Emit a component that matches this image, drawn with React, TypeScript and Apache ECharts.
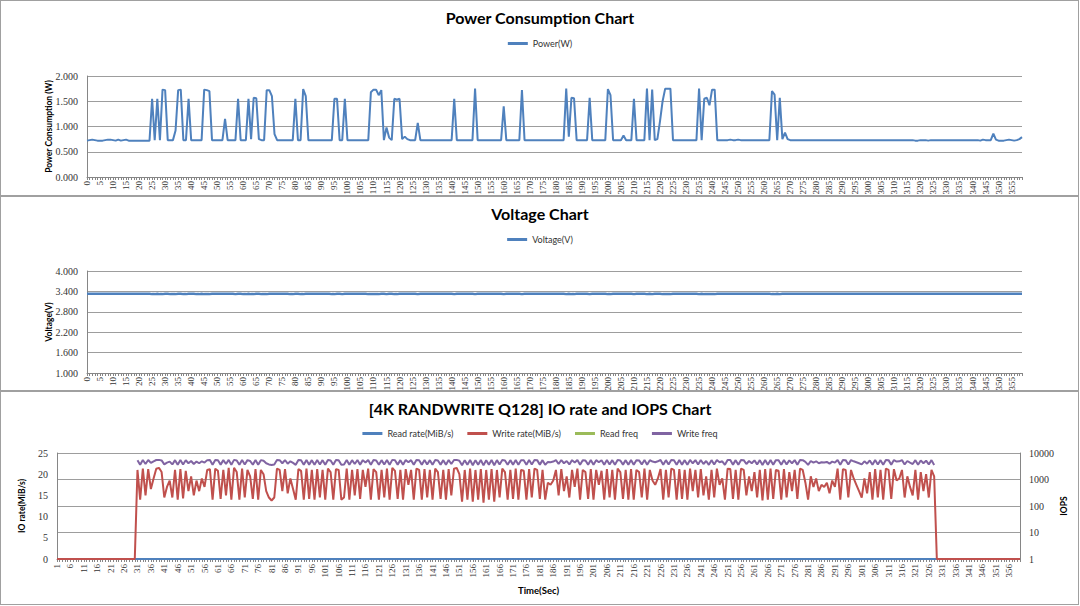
import React, { useEffect, useRef } from 'react';
import * as echarts from 'echarts';

// ---------- categories ----------
const powerSeconds: string[] = Array.from({ length: 360 }, (_, i) => String(i));
const ioSeconds: string[] = Array.from({ length: 360 }, (_, i) => String(i + 1));

// ---------- Power (W), seconds 0..359 ----------
const power: number[] = [
  0.72,0.73,0.74,0.73,0.72,0.72,0.72,0.73,0.74,0.74,0.73,0.72,0.74,0.72,0.73,0.74,0.72,0.72,0.72,0.72,
  0.72,0.72,0.72,0.72,0.72,1.55,0.73,1.55,0.73,1.73,1.72,0.73,0.73,0.73,0.92,1.72,1.73,0.73,0.73,1.55,
  0.73,0.73,0.73,0.73,0.73,1.73,1.72,1.70,0.73,0.73,0.73,0.73,0.73,1.15,0.73,0.73,0.73,0.73,1.55,0.73,
  0.73,0.73,1.55,0.75,1.57,1.56,0.75,0.73,0.73,1.72,1.72,1.60,0.85,0.73,0.73,0.73,0.73,0.73,0.73,0.73,
  1.55,0.73,0.73,1.74,1.60,0.73,0.73,0.73,0.73,0.73,0.73,0.73,0.73,0.73,0.73,1.55,1.55,0.73,0.73,1.55,
  0.73,0.73,0.73,0.73,0.73,0.73,0.73,0.73,0.73,1.68,1.73,1.73,1.62,1.72,0.73,0.98,0.78,0.73,1.55,1.53,
  1.55,0.75,0.80,0.75,0.73,0.73,0.73,1.07,0.73,0.73,0.73,0.73,0.73,0.73,0.73,0.73,0.73,0.73,0.73,0.73,
  0.73,1.55,0.73,0.73,0.73,0.73,0.73,0.73,0.73,1.75,0.73,0.73,0.73,0.73,0.73,0.73,0.73,0.73,0.73,0.73,
  1.40,0.73,0.73,0.73,0.73,0.73,0.73,1.72,0.73,0.73,0.73,0.73,0.73,0.73,0.73,0.73,0.73,0.73,0.73,0.73,
  0.73,0.73,0.73,0.73,1.75,0.80,1.57,1.56,0.73,0.73,0.73,0.73,0.73,1.57,0.73,0.73,0.73,0.73,0.73,0.73,
  1.74,1.62,0.73,0.73,0.73,0.73,0.82,0.73,0.73,0.73,1.55,0.73,0.73,0.73,0.73,1.75,0.73,1.73,0.73,0.75,
  1.10,1.50,1.75,1.75,1.75,0.73,0.73,0.73,0.73,0.73,0.73,0.73,0.73,0.73,0.73,1.75,0.73,1.55,1.57,1.42,
  1.73,1.73,0.73,0.73,0.73,0.73,0.73,0.74,0.73,0.73,0.74,0.73,0.73,0.73,0.73,0.73,0.73,0.73,0.73,0.73,
  0.73,0.73,0.73,1.70,1.63,0.73,1.57,0.75,0.88,0.75,0.73,0.73,0.73,0.73,0.73,0.73,0.73,0.73,0.73,0.73,
  0.73,0.73,0.73,0.73,0.73,0.73,0.73,0.73,0.73,0.73,0.73,0.73,0.73,0.73,0.73,0.73,0.73,0.73,0.73,0.73,
  0.73,0.73,0.73,0.73,0.73,0.73,0.73,0.73,0.73,0.73,0.73,0.73,0.73,0.73,0.73,0.73,0.73,0.73,0.72,0.72,
  0.73,0.73,0.73,0.72,0.73,0.73,0.73,0.73,0.73,0.73,0.73,0.73,0.73,0.73,0.73,0.73,0.73,0.73,0.73,0.73,
  0.73,0.73,0.73,0.72,0.74,0.73,0.73,0.73,0.86,0.74,0.72,0.72,0.72,0.73,0.74,0.73,0.72,0.73,0.75,0.79,
];

// ---------- Voltage (V), seconds 0..359 ----------
const voltage: number[] = [
  3.33,3.33,3.33,3.33,3.33,3.33,3.33,3.33,3.33,3.33,3.33,3.33,3.33,3.33,3.33,3.33,3.33,3.33,3.33,3.33,
  3.33,3.33,3.33,3.33,3.33,3.32,3.32,3.33,3.32,3.32,3.33,3.33,3.32,3.32,3.32,3.33,3.33,3.32,3.32,3.33,
  3.33,3.33,3.32,3.32,3.33,3.32,3.32,3.32,3.33,3.33,3.33,3.33,3.33,3.33,3.33,3.33,3.33,3.32,3.33,3.33,
  3.32,3.32,3.33,3.32,3.32,3.33,3.33,3.32,3.32,3.32,3.33,3.33,3.33,3.33,3.33,3.33,3.33,3.33,3.32,3.32,
  3.33,3.33,3.32,3.32,3.33,3.33,3.33,3.33,3.33,3.33,3.33,3.33,3.33,3.33,3.32,3.32,3.33,3.33,3.32,3.33,
  3.33,3.33,3.33,3.33,3.33,3.33,3.33,3.33,3.32,3.32,3.32,3.32,3.32,3.33,3.33,3.32,3.33,3.33,3.32,3.32,
  3.33,3.33,3.33,3.33,3.33,3.33,3.33,3.32,3.33,3.33,3.33,3.33,3.33,3.33,3.33,3.33,3.33,3.33,3.33,3.33,
  3.33,3.32,3.33,3.33,3.33,3.33,3.33,3.33,3.33,3.32,3.33,3.33,3.33,3.33,3.33,3.33,3.33,3.33,3.33,3.33,
  3.32,3.33,3.33,3.33,3.33,3.33,3.33,3.32,3.33,3.33,3.33,3.33,3.33,3.33,3.33,3.33,3.33,3.33,3.33,3.33,
  3.33,3.33,3.33,3.33,3.32,3.33,3.32,3.32,3.33,3.33,3.33,3.33,3.33,3.32,3.33,3.33,3.33,3.33,3.33,3.33,
  3.32,3.32,3.33,3.33,3.33,3.33,3.33,3.33,3.33,3.33,3.32,3.33,3.33,3.33,3.33,3.32,3.33,3.32,3.33,3.33,
  3.33,3.32,3.32,3.32,3.32,3.33,3.33,3.33,3.33,3.33,3.33,3.33,3.33,3.33,3.33,3.32,3.33,3.32,3.32,3.32,
  3.32,3.32,3.33,3.33,3.33,3.33,3.33,3.33,3.33,3.33,3.33,3.33,3.33,3.33,3.33,3.33,3.33,3.33,3.33,3.33,
  3.33,3.33,3.33,3.32,3.32,3.33,3.32,3.33,3.33,3.33,3.33,3.33,3.33,3.33,3.33,3.33,3.33,3.33,3.33,3.33,
  3.33,3.33,3.33,3.33,3.33,3.33,3.33,3.33,3.33,3.33,3.33,3.33,3.33,3.33,3.33,3.33,3.33,3.33,3.33,3.33,
  3.33,3.33,3.33,3.33,3.33,3.33,3.33,3.33,3.33,3.33,3.33,3.33,3.33,3.33,3.33,3.33,3.33,3.33,3.33,3.33,
  3.33,3.33,3.33,3.33,3.33,3.33,3.33,3.33,3.33,3.33,3.33,3.33,3.33,3.33,3.33,3.33,3.33,3.33,3.33,3.33,
  3.33,3.33,3.33,3.33,3.33,3.33,3.33,3.33,3.33,3.33,3.33,3.33,3.33,3.33,3.33,3.33,3.33,3.33,3.33,3.33,
];

// ---------- IO chart, seconds 1..360 ----------
const readRate: number[] = [
  0,0,0,0,0,0,0,0,0,0,0,0,0,0,0,0,0,0,0,0,
  0,0,0,0,0,0,0,0,0,0,0,0,0,0,0,0,0,0,0,0,
  0,0,0,0,0,0,0,0,0,0,0,0,0,0,0,0,0,0,0,0,
  0,0,0,0,0,0,0,0,0,0,0,0,0,0,0,0,0,0,0,0,
  0,0,0,0,0,0,0,0,0,0,0,0,0,0,0,0,0,0,0,0,
  0,0,0,0,0,0,0,0,0,0,0,0,0,0,0,0,0,0,0,0,
  0,0,0,0,0,0,0,0,0,0,0,0,0,0,0,0,0,0,0,0,
  0,0,0,0,0,0,0,0,0,0,0,0,0,0,0,0,0,0,0,0,
  0,0,0,0,0,0,0,0,0,0,0,0,0,0,0,0,0,0,0,0,
  0,0,0,0,0,0,0,0,0,0,0,0,0,0,0,0,0,0,0,0,
  0,0,0,0,0,0,0,0,0,0,0,0,0,0,0,0,0,0,0,0,
  0,0,0,0,0,0,0,0,0,0,0,0,0,0,0,0,0,0,0,0,
  0,0,0,0,0,0,0,0,0,0,0,0,0,0,0,0,0,0,0,0,
  0,0,0,0,0,0,0,0,0,0,0,0,0,0,0,0,0,0,0,0,
  0,0,0,0,0,0,0,0,0,0,0,0,0,0,0,0,0,0,0,0,
  0,0,0,0,0,0,0,0,0,0,0,0,0,0,0,0,0,0,0,0,
  0,0,0,0,0,0,0,0,0,0,0,0,0,0,0,0,0,0,0,0,
  0,0,0,0,0,0,0,0,0,0,0,0,0,0,0,0,0,0,0,0,
];

const writeRate: number[] = [
  0,0,0,0,0,0,0,0,0,0,0,0,0,0,0,0,0,0,0,0,
  0,0,0,0,0,0,0,0,0,0,21.0,14.0,21.3,15.0,21.2,16.5,19.0,21.3,21.5,20.5,
  14.5,17.0,18.5,14.5,21.0,14.0,21.2,14.3,20.8,16.0,19.5,15.0,18.5,16.0,19.0,17.0,21.0,21.2,14.0,21.3,
  20.8,14.2,21.0,15.0,21.5,14.0,21.5,20.5,14.0,21.3,14.5,21.0,19.5,14.2,21.2,14.0,21.0,20.0,16.0,14.5,
  13.8,14.5,21.3,21.0,16.0,21.2,15.5,19.0,16.5,14.0,21.2,20.8,14.0,21.3,14.2,21.0,14.0,21.2,14.5,21.0,
  14.0,21.3,20.5,14.0,21.2,21.0,14.0,14.5,21.3,14.0,21.0,15.0,21.2,14.2,21.0,17.0,21.3,14.0,21.2,20.5,
  14.0,21.0,14.5,21.3,14.0,21.5,20.8,14.2,21.0,14.0,21.2,17.5,21.0,14.0,21.3,21.0,14.0,21.2,14.5,21.0,
  14.0,21.3,20.5,14.2,21.0,14.0,21.2,15.0,21.3,21.5,20.0,13.5,21.0,14.0,21.3,13.5,21.0,14.0,21.2,13.3,
  21.0,14.0,21.2,13.5,21.0,14.5,21.3,20.5,14.0,21.0,14.2,21.3,14.0,21.0,20.8,14.0,21.2,14.5,21.3,21.0,
  14.2,21.0,14.0,18.0,17.5,18.5,21.0,15.0,21.2,16.0,19.5,14.5,21.0,17.0,21.3,14.0,21.0,20.5,14.2,21.2,
  14.0,21.0,17.5,20.8,14.0,21.2,14.5,21.0,14.0,21.3,20.5,14.2,21.0,14.0,21.2,14.0,21.0,20.5,14.5,21.3,
  14.0,21.0,18.5,17.5,19.0,21.2,14.0,21.0,14.5,21.3,21.0,14.0,21.2,14.2,21.0,14.0,21.3,16.0,21.0,14.5,
  21.2,15.0,19.5,14.0,21.0,14.5,21.3,17.5,19.0,14.0,21.3,21.2,14.2,21.0,14.0,21.3,21.0,15.0,19.5,16.0,
  20.5,14.5,21.0,13.8,21.2,14.0,21.3,14.2,21.0,20.8,14.0,21.2,14.5,20.5,16.0,21.0,14.2,21.3,21.0,18.0,
  14.0,19.5,17.0,19.0,16.0,17.5,17.0,18.0,15.5,18.5,17.0,21.3,14.0,21.2,21.0,14.5,21.0,19.0,17.5,16.0,
  14.5,19.0,15.5,20.5,14.0,21.2,14.5,21.0,14.0,21.3,21.0,14.2,21.2,18.5,19.0,21.0,14.5,19.5,17.0,15.0,
  21.0,14.0,20.5,16.0,20.0,14.5,21.0,19.5,0,0,0,0,0,0,0,0,0,0,0,0,
  0,0,0,0,0,0,0,0,0,0,0,0,0,0,0,0,0,0,0,0,
];

// Read freq is zero throughout and cannot appear on the logarithmic IOPS axis.
const readFreq: (number | null)[] = [];

const writeFreq: (number | null)[] = [
  null,null,null,null,null,null,null,null,null,null,null,null,null,null,null,null,null,null,null,null,
  null,null,null,null,null,null,null,null,null,null,5380,3580,5450,3840,5430,4220,4860,5450,5500,5250,
  3710,4350,4740,3710,5380,3580,5430,3660,5320,4100,4990,3840,4740,4100,4860,4350,5380,5430,3580,5450,
  5320,3640,5380,3840,5500,3580,5500,5250,3580,5450,3710,5380,4990,3640,5430,3580,5380,5120,4100,3710,
  3530,3710,5450,5380,4100,5430,3970,4860,4220,3580,5430,5320,3580,5450,3640,5380,3580,5430,3710,5380,
  3580,5450,5250,3580,5430,5380,3580,3710,5450,3580,5380,3840,5430,3640,5380,4350,5450,3580,5430,5250,
  3580,5380,3710,5450,3580,5500,5320,3640,5380,3580,5430,4480,5380,3580,5450,5380,3580,5430,3710,5380,
  3580,5450,5250,3640,5380,3580,5430,3840,5450,5500,5120,3460,5380,3580,5450,3460,5380,3580,5430,3400,
  5380,3580,5430,3460,5380,3710,5450,5250,3580,5380,3640,5450,3580,5380,5320,3580,5430,3710,5450,5380,
  3640,5380,3580,4610,4480,4740,5380,3840,5430,4100,4990,3710,5380,4350,5450,3580,5380,5250,3640,5430,
  3580,5380,4480,5320,3580,5430,3710,5380,3580,5450,5250,3640,5380,3580,5430,3580,5380,5250,3710,5450,
  3580,5380,4740,4480,4860,5430,3580,5380,3710,5450,5380,3580,5430,3640,5380,3580,5450,4100,5380,3710,
  5430,3840,4990,3580,5380,3710,5450,4480,4860,3580,5450,5430,3640,5380,3580,5450,5380,3840,4990,4100,
  5250,3710,5380,3530,5430,3580,5450,3640,5380,5320,3580,5430,3710,5250,4100,5380,3640,5450,5380,4610,
  3580,4990,4350,4860,4100,4480,4350,4610,3970,4740,4350,5450,3580,5430,5380,3710,5380,4860,4480,4100,
  3710,4860,3970,5250,3580,5430,3710,5380,3580,5450,5380,3640,5430,4740,4860,5380,3710,4990,4350,3840,
  5380,3580,5250,4100,5120,3710,5380,3500,null,null,null,null,null,null,null,null,null,null,null,null,
  null,null,null,null,null,null,null,null,null,null,null,null,null,null,null,null,null,null,null,null,
];

// ---------- styling ----------
const BLUE = '#4F81BD';
const RED = '#C0504D';
const GREEN = '#9BBB59';
const PURPLE = '#8064A2';
const AXIS = '#868686';
const GRID = '#9d9d9d';
const LABEL = '#333333';
const SANS = 'Lato';
const SERIF = 'Liberation Serif';

const titleStyle = { fontFamily: SANS, fontSize: 16, fontWeight: 'bold' as const, color: '#000' };
const legendText = { fontFamily: SANS, fontSize: 9, color: '#333' };
const nameStyle = { fontFamily: SANS, fontSize: 8.5, fontWeight: 'bold' as const, color: '#000' };
const legendBase = { left: 'center', icon: 'rect', itemWidth: 20, itemHeight: 3, textStyle: legendText };

function catAxis(data: string[], extra: any = {}) {
  return {
    type: 'category',
    data,
    boundaryGap: false,
    axisLine: { show: true, lineStyle: { color: AXIS, width: 1 } },
    axisTick: { show: true, interval: 0, length: 3, lineStyle: { color: AXIS } },
    axisLabel: { interval: 4, rotate: 90, fontSize: 9, fontFamily: SERIF, color: LABEL, margin: 4 },
    splitLine: { show: false },
    ...extra,
  };
}

const powerOption: any = {
  animation: false,
  title: { text: 'Power Consumption Chart', left: 'center', top: 4, textStyle: titleStyle },
  legend: { ...legendBase, top: 34, data: ['Power(W)'] },
  grid: { left: 87, top: 76, width: 935, height: 101, containLabel: false, outerBoundsMode: 'none' },
  xAxis: catAxis(powerSeconds),
  yAxis: {
    type: 'value', min: 0, max: 2, interval: 0.5,
    name: 'Power Consumption (W)', nameLocation: 'middle', nameGap: 34, nameRotate: 90,
    nameTextStyle: nameStyle, nameMoveOverlap: false,
    axisLine: { show: true, lineStyle: { color: AXIS } },
    axisTick: { show: false },
    axisLabel: { formatter: (v: number) => v.toFixed(3), fontSize: 10, fontFamily: SERIF, color: LABEL, margin: 9 },
    splitLine: { show: true, lineStyle: { color: GRID, width: 1 } },
  },
  series: [{
    name: 'Power(W)', type: 'line', data: power, symbol: 'none',
    lineStyle: { color: BLUE, width: 2 }, itemStyle: { color: BLUE },
  }],
};

// Voltage axis spans 1.000 .. 4.000 in steps of 0.600; values are drawn relative to the 1.000 floor.
const VOLT_FLOOR = 1;
const voltageOption: any = {
  animation: false,
  title: { text: 'Voltage Chart', left: 'center', top: 4, textStyle: titleStyle },
  legend: { ...legendBase, top: 34, data: ['Voltage(V)'] },
  grid: { left: 87, top: 75, width: 935, height: 102, containLabel: false, outerBoundsMode: 'none' },
  xAxis: catAxis(powerSeconds),
  yAxis: {
    type: 'value', min: 0, max: 3, interval: 0.6,
    name: 'Voltage(V)', nameLocation: 'middle', nameGap: 34, nameRotate: 90,
    nameTextStyle: nameStyle, nameMoveOverlap: false,
    axisLine: { show: true, lineStyle: { color: AXIS } },
    axisTick: { show: false },
    axisLabel: { formatter: (v: number) => (v + VOLT_FLOOR).toFixed(3), fontSize: 10, fontFamily: SERIF, color: LABEL, margin: 9 },
    splitLine: { show: true, lineStyle: { color: GRID, width: 1 } },
  },
  series: [{
    name: 'Voltage(V)', type: 'line', data: voltage.map((v) => +(v - VOLT_FLOOR).toFixed(4)), symbol: 'none',
    lineStyle: { color: BLUE, width: 2.5 }, itemStyle: { color: BLUE },
  }],
};

const ioOption: any = {
  animation: false,
  title: { text: '[4K RANDWRITE Q128] IO rate and IOPS Chart', left: 'center', top: 4, textStyle: titleStyle },
  legend: {
    ...legendBase, top: 33, itemGap: 14,
    data: ['Read rate(MiB/s)', 'Write rate(MiB/s)', 'Read freq', 'Write freq'],
  },
  grid: { left: 57, top: 62, width: 963, height: 106, containLabel: false, outerBoundsMode: 'none' },
  xAxis: catAxis(ioSeconds, {
    name: 'Time(Sec)', nameLocation: 'middle', nameGap: 26,
    nameTextStyle: { fontFamily: SANS, fontSize: 9.5, fontWeight: 'bold', color: '#000' }, nameMoveOverlap: false,
    axisLabel: { interval: 4, rotate: 90, fontSize: 9, fontFamily: SERIF, color: LABEL, margin: 5 },
  }),
  yAxis: [
    {
      type: 'value', min: 0, max: 25, interval: 5, position: 'left',
      name: 'IO rate(MiB/s)', nameLocation: 'middle', nameGap: 31, nameRotate: 90,
      nameTextStyle: nameStyle, nameMoveOverlap: false,
      axisLine: { show: true, lineStyle: { color: AXIS } },
      axisTick: { show: false },
      axisLabel: { fontSize: 10, fontFamily: SERIF, color: LABEL, margin: 9 },
      splitLine: { show: false },
    },
    {
      type: 'log', logBase: 10, min: 1, max: 10000, position: 'right',
      name: 'IOPS', nameLocation: 'middle', nameGap: 39, nameRotate: 90,
      nameTextStyle: nameStyle, nameMoveOverlap: false,
      axisLine: { show: true, lineStyle: { color: AXIS } },
      axisTick: { show: false },
      axisLabel: { formatter: (v: number) => String(Math.round(v)), fontSize: 10, fontFamily: SERIF, color: LABEL, margin: 9 },
      splitLine: { show: true, lineStyle: { color: GRID, width: 1 } },
    },
  ],
  series: [
    { name: 'Read rate(MiB/s)', type: 'line', yAxisIndex: 0, data: readRate, symbol: 'none', lineStyle: { color: BLUE, width: 2 }, itemStyle: { color: BLUE } },
    { name: 'Write rate(MiB/s)', type: 'line', yAxisIndex: 0, data: writeRate, symbol: 'none', lineStyle: { color: RED, width: 2 }, itemStyle: { color: RED } },
    { name: 'Read freq', type: 'line', yAxisIndex: 1, data: readFreq, symbol: 'none', lineStyle: { color: GREEN, width: 2 }, itemStyle: { color: GREEN } },
    { name: 'Write freq', type: 'line', yAxisIndex: 1, data: writeFreq, symbol: 'none', lineStyle: { color: PURPLE, width: 2 }, itemStyle: { color: PURPLE } },
  ],
};

const PANEL_BORDER = '#a0a0a0';

function Panel({ top, height, chartRef }: { top: number; height: number; chartRef: React.RefObject<HTMLDivElement | null> }) {
  return (
    <div
      style={{
        position: 'absolute', left: 0, top, width: 1079, height,
        border: `1px solid ${PANEL_BORDER}`, boxSizing: 'border-box', overflow: 'hidden', background: '#fff',
      }}
    >
      <div ref={chartRef} style={{ position: 'absolute', left: -1, top: -1, width: 1080, height }} />
    </div>
  );
}

export default function App() {
  const r1 = useRef<HTMLDivElement>(null);
  const r2 = useRef<HTMLDivElement>(null);
  const r3 = useRef<HTMLDivElement>(null);

  useEffect(() => {
    const c1 = echarts.init(r1.current!, undefined, { renderer: 'svg' });
    const c2 = echarts.init(r2.current!, undefined, { renderer: 'svg' });
    const c3 = echarts.init(r3.current!, undefined, { renderer: 'svg' });
    c1.setOption(powerOption);
    c2.setOption(voltageOption);
    c3.setOption(ioOption);
    return () => {
      c1.dispose();
      c2.dispose();
      c3.dispose();
    };
  }, []);

  return (
    <div style={{ position: 'fixed', left: 0, top: 0, width: 1080, height: 606, background: '#fff', overflow: 'hidden' }}>
      <Panel top={0} height={196} chartRef={r1} />
      <Panel top={196} height={195} chartRef={r2} />
      <Panel top={391} height={214} chartRef={r3} />
    </div>
  );
}
